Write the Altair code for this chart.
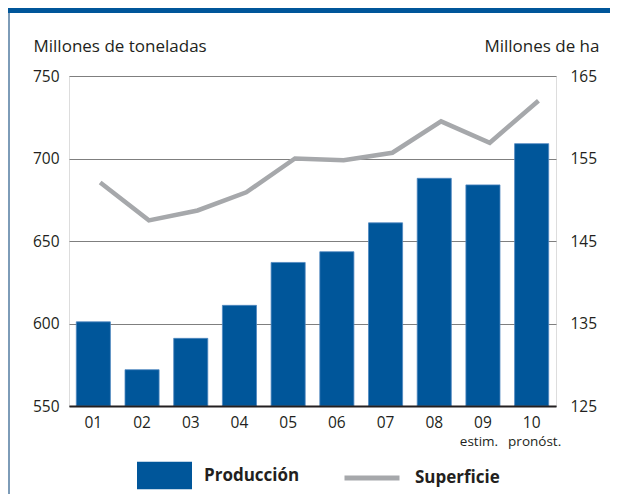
import altair as alt
import pandas as pd

years = ["01", "02", "03", "04", "05", "06", "07", "08", "09", "10"]
produccion = [601, 572, 591, 611, 637, 643.5, 661, 688, 684, 709]
superficie = [152.1, 147.5, 148.7, 150.9, 155.0, 154.8, 155.7, 159.5, 156.9, 162.0]
notas = ["", "", "", "", "", "", "", "", "estim.", "pronóst."]
left_ticks = [550, 600, 650, 700, 750]
right_ticks = [125, 135, 145, 155, 165]

FONT = "Open Sans"
TXT = "#231f20"
BLUE = "#00569a"
GREY = "#a6a8ab"

df = pd.DataFrame({"anio": years, "produccion": produccion,
                   "superficie": superficie, "nota": notas})

x_axis = alt.Axis(title=None, labelAngle=0, ticks=False, domain=True,
                  domainColor=TXT, domainWidth=2, labelFont=FONT,
                  labelFontSize=15.5, labelColor=TXT, labelPadding=9,
                  zindex=1)
x_scale = alt.Scale(paddingInner=0.3, paddingOuter=0.15)

base = alt.Chart(df)

decor_data = alt.Chart(pd.DataFrame({"k": [0]}))
band = decor_data.mark_rect(color=BLUE).encode(
    x=alt.value(-61), x2=alt.value(541), y=alt.value(-68), y2=alt.value(-63))
border = decor_data.mark_rect(color="#7d9cb8").encode(
    x=alt.value(-61), x2=alt.value(-59), y=alt.value(-63), y2=alt.value(418))

bars = base.mark_bar(stroke="#4f88c0", strokeWidth=0.8).transform_calculate(
    serie="'Producción'"
).encode(
    x=alt.X("anio:N", axis=x_axis, scale=x_scale, sort=years),
    y=alt.Y("produccion:Q",
            scale=alt.Scale(domain=[550, 750], nice=False, zero=False),
            axis=alt.Axis(values=left_ticks, title="Millones de toneladas",
                          orient="left", grid=True, gridColor="#7f7f7f",
                          gridWidth=1, ticks=False, domain=False,
                          labelFont=FONT, labelFontSize=15.5, labelColor=TXT,
                          labelPadding=10, titleAngle=0, titleAlign="left",
                          titleBaseline="alphabetic", titleX=-36, titleY=-25,
                          titleFont=FONT, titleFontSize=17,
                          titleFontWeight="normal", titleColor=TXT)),
    y2=alt.datum(550),
    color=alt.Color("serie:N", scale=alt.Scale(domain=["Producción"], range=[BLUE]),
                    legend=alt.Legend(title=None, orient="none", legendX=68,
                                      legendY=372, padding=0,
                                      symbolType="M-1,-0.5H1V0.5H-1Z",
                                      symbolSize=3025, symbolStrokeWidth=0,
                                      symbolOpacity=1,
                                      labelFont=FONT, labelFontSize=17,
                                      labelFontWeight="bold", labelColor=TXT,
                                      labelOffset=12)),
)


def note_layer(label, dx):
    return base.transform_filter(alt.datum.nota == label).mark_text(
        font=FONT, fontSize=13.5, color=TXT, baseline="alphabetic",
        dy=40, dx=dx).encode(
        x=alt.X("anio:N", axis=x_axis, scale=x_scale, sort=years),
        y=alt.datum(550),
        text="nota:N",
    )


notes_a = note_layer("estim.", -4)
notes_b = note_layer("pronóst.", 3)

left_layer = alt.layer(band, border, bars, notes_a, notes_b)

line = base.mark_line(strokeWidth=4.5, strokeJoin="miter").transform_calculate(
    serie2="'Superficie'"
).encode(
    x=alt.X("anio:N", axis=x_axis, scale=x_scale, sort=years, bandPosition=0.7),
    y=alt.Y("superficie:Q",
            scale=alt.Scale(domain=[125, 165], nice=False, zero=False),
            axis=alt.Axis(values=right_ticks, title="Millones de ha",
                          orient="right", grid=False, ticks=False, domain=False,
                          labelFont=FONT, labelFontSize=15.5, labelColor=TXT,
                          labelPadding=14, labelAlign="left",
                          titleAngle=0, titleAlign="right",
                          titleBaseline="alphabetic", titleX=43, titleY=-25,
                          titleFont=FONT, titleFontSize=17,
                          titleFontWeight="normal", titleColor=TXT)),
    stroke=alt.Stroke("serie2:N", scale=alt.Scale(domain=["Superficie"], range=[GREY]),
                      legend=alt.Legend(title=None, orient="none", legendX=273,
                                        legendY=372, padding=0,
                                        symbolType="stroke", symbolSize=3025,
                                        symbolStrokeWidth=5,
                                        labelFont=FONT, labelFontSize=17,
                                        labelFontWeight="bold", labelColor=TXT,
                                        labelOffset=13)),
)

chart = alt.layer(left_layer, line).resolve_scale(y="independent").properties(
    width=487, height=330,
    padding={"left": 61, "top": 68, "right": 54, "bottom": 88},
    autosize=alt.AutoSizeParams(type="none"),
).configure_view(stroke=None).configure(background="white")

chart.save("out.html", embed_options={"renderer": "svg", "actions": False})
